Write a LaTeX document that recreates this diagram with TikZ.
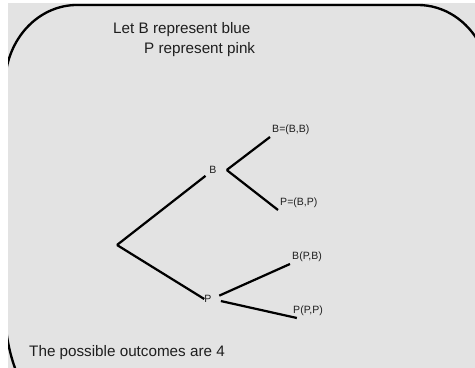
\documentclass[tikz,border=0pt]{standalone}
\usepackage{fontspec}
\setmainfont{Liberation Sans}
\usetikzlibrary{positioning}
\definecolor{panel}{RGB}{227,227,227}
\definecolor{ink}{RGB}{30,30,30}
\tikzset{
  branch/.style={line width=1.9pt, black},
  rim/.style={line width=2pt, black},
  note/.style={text=ink, font=\fontsize{13}{15}\selectfont, inner sep=0pt, anchor=west},
  choice/.style={text=ink, font=\fontsize{9}{11}\selectfont, inner sep=0pt},
  outcome/.style={text=ink, font=\fontsize{9}{11}\selectfont, inner sep=1.7pt, anchor=south west}
}
\begin{document}
\begin{tikzpicture}[x=0.03cm,y=0.03cm]
\useasboundingbox (0,0) rectangle (475,368);
\fill[white] (0,0) rectangle (475,368);
\fill[panel] (8,0) rectangle (475,365);

% the visible bits of the oval-cornered frame
\begin{scope}
\clip (8,0) rectangle (475,365);
\draw[rim] (6.1,296.9) arc[start angle=170, end angle=90, x radius=72, y radius=80]
  -- (418,363) arc[start angle=90, end angle=30, x radius=72, y radius=80];
\draw[rim] (5,59.4) arc[start angle=180, end angle=215, x radius=72, y radius=117];
\end{scope}

\node[note] (key1) at (113,338) {Let B represent blue};
\node[note] (key2) at (144,318) {P represent pink};
\node[note] (total) at (29,15) {The possible outcomes are 4};

% tree
\coordinate (root) at (117,123);
\node[choice, inner xsep=8.5pt, inner ysep=1.7pt] (nb) at (213,198) {B};
\node[choice] (np) at (208,69) {P};

\node[outcome] (bb) at (270,231) {B=(B,B)};
\node[outcome] (bp) at (278,158) {P=(B,P)};
\node[outcome] (pb) at (290,104) {B(P,B)};
\node[outcome] (pp) at (291,50) {P(P,P)};

\draw[branch] (root) -- (nb);
\draw[branch] (root) -- (np.west);
\draw[branch] (nb.east) -- (bb.south west);
\draw[branch] (nb.east) -- (bp.south west);
\draw[branch, shorten <=7pt] (np.east) -- (pb.south west);
\draw[branch, shorten <=8pt] (np.east) -- ([xshift=5pt]pp.south west);
\end{tikzpicture}
\end{document}
